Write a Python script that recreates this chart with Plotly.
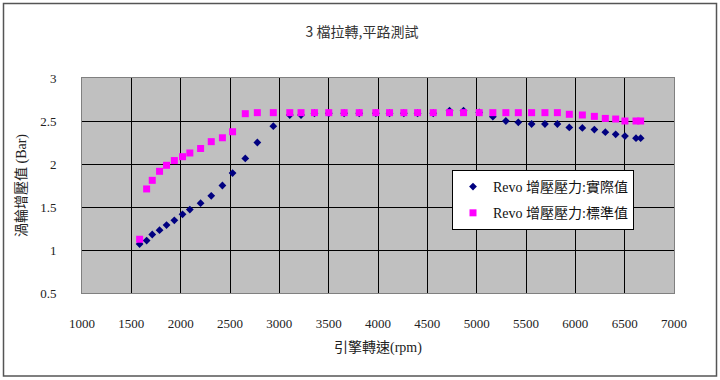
import plotly.graph_objects as go

rpm = [1584, 1655, 1712, 1786, 1857, 1936, 2019, 2093, 2202, 2310, 2423, 2526,
       2655, 2777, 2939, 3106, 3220, 3356, 3501, 3657, 3810, 3978, 4117, 4262,
       4401, 4560, 4725, 4867, 5026, 5164, 5296, 5422, 5557, 5692, 5818, 5939,
       6071, 6193, 6304, 6409, 6503, 6615, 6662]

actual = [1.07, 1.11, 1.18, 1.23, 1.29, 1.345, 1.415, 1.47, 1.545, 1.63, 1.75, 1.895,
          2.065, 2.25, 2.44, 2.57, 2.57, 2.59, 2.59, 2.59, 2.59, 2.59, 2.59, 2.59,
          2.59, 2.59, 2.62, 2.62, 2.6, 2.55, 2.5, 2.485, 2.465, 2.465, 2.465, 2.425,
          2.42, 2.4, 2.37, 2.345, 2.325, 2.3, 2.3]

standard = [1.125, 1.71, 1.81, 1.915, 1.985, 2.04, 2.085, 2.128, 2.18, 2.26, 2.305, 2.375,
            2.585, 2.597, 2.597, 2.597, 2.597, 2.597, 2.597, 2.597, 2.597, 2.597, 2.597, 2.597,
            2.597, 2.597, 2.597, 2.597, 2.597, 2.597, 2.597, 2.597, 2.597, 2.597, 2.597, 2.578,
            2.57, 2.554, 2.53, 2.523, 2.5, 2.5, 2.5]

title_text = "3 檔拉轉,平路測試"
x_title = "引擎轉速(rpm)"
y_title = "渦輪增壓值 (Bar)"
names = ["Revo 增壓壓力:實際值", "Revo 增壓壓力:標準值"]

FONT = "Liberation Serif, 'Noto Sans CJK TC', serif"

fig = go.Figure()
fig.add_trace(go.Scatter(x=rpm, y=actual, mode="markers", name=names[0],
                         legendgroup="a",
                         marker=dict(symbol="diamond", size=6, color="#000080")))
fig.add_trace(go.Scatter(x=rpm, y=standard, mode="markers", name=names[1],
                         legendgroup="b",
                         marker=dict(symbol="square", size=7, color="#FF00FF")))

fig.update_layout(
    width=720, height=380,
    margin=dict(l=82, r=46, t=78, b=87),
    paper_bgcolor="white",
    plot_bgcolor="#C0C0C0",
    font=dict(family=FONT, size=14, color="#222"),
    title=dict(text=title_text, x=362/720, xanchor="center", y=1 - 32/380,
               yanchor="middle",
               font=dict(family="'Noto Sans CJK TC', Liberation Sans, sans-serif",
                         size=14, color="#333")),
    showlegend=True,
    legend=dict(x=0.625, y=0.572, xanchor="left", yanchor="top",
                bgcolor="white", bordercolor="black", borderwidth=1,
                tracegroupgap=5, itemsizing="trace",
                font=dict(family=FONT, size=14, color="#111")),
    shapes=[dict(type="rect", xref="paper", yref="paper",
                 x0=-0.1326, x1=1.0718, y0=-0.386, y1=1.3465,
                 line=dict(color="#555", width=1.5), layer="below")],
)

fig.update_xaxes(range=[1000, 7000], dtick=500, tick0=1000,
                 showgrid=True, gridcolor="black", gridwidth=1,
                 showline=True, linecolor="#808080", linewidth=1, mirror=True,
                 zeroline=False, ticks="", ticklabelstandoff=18,
                 tickfont=dict(family=FONT, size=13, color="#222"),
                 title=dict(text=x_title, standoff=12,
                            font=dict(family=FONT, size=14, color="#222")))
fig.update_yaxes(range=[0.5, 3], dtick=0.5, tick0=0.5,
                 showgrid=True, gridcolor="black", gridwidth=1,
                 showline=True, linecolor="#808080", linewidth=1, mirror=True,
                 zeroline=False, ticks="", ticklabelstandoff=22,
                 tickfont=dict(family=FONT, size=13, color="#222"),
                 title=dict(text=y_title, standoff=10,
                            font=dict(family=FONT, size=14, color="#222")))

fig.write_html("out.html", config={"displayModeBar": False},
               post_script="document.body.style.margin='0';document.body.style.overflow='hidden';")
